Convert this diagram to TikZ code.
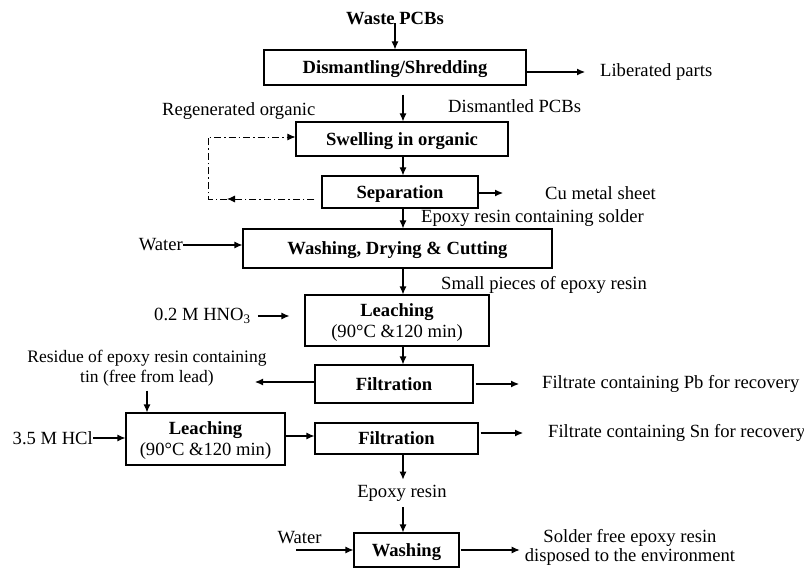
\documentclass[tikz,border=0pt]{standalone}
\usepackage{fontspec}
\setmainfont{Liberation Serif}
\usetikzlibrary{arrows.meta}
\begin{document}
\begin{tikzpicture}[x=1pt,y=-1pt,
  every node/.style={font=\fontsize{18.6}{21}\selectfont, inner sep=0pt},
  box/.style={draw, line width=1.1pt, font=\fontsize{18.6}{21}\selectfont\bfseries, align=center, text depth=0pt},
  lbl/.style={anchor=west},
  arr/.style={line width=1.1pt, -{Latex[length=8pt,width=7pt]}},
  dd/.style={line width=0.9pt, dash pattern=on 7pt off 3pt on 1.5pt off 3pt}
]
\fill[white] (0,0) rectangle (804,575);
\useasboundingbox (0,0) rectangle (804,575);

\coordinate (spine) at (403,0);

% main column
\node[font=\fontsize{18.6}{21}\selectfont\bfseries] (waste) at (395,18) {Waste PCBs};
\node[box, minimum width=262pt, minimum height=35pt] (dism) at (395,67.5) {Dismantling/Shredding};
\node[box, minimum width=212pt, minimum height=34pt] (swell) at (402,139) {Swelling in organic};
\node[box, minimum width=156pt, minimum height=32pt] (sep) at (400,192) {Separation};
\node[box, minimum width=309pt, minimum height=39pt] (wash) at (397.5,248.5) {Washing, Drying \& Cutting};
\node[box, minimum width=184pt, minimum height=51pt] (leach1) at (397,320.5) {Leaching\\\textnormal{(90°C \&120 min)}};
\node[box, minimum width=158pt, minimum height=38pt] (filt1) at (394,384) {Filtration};
\node[box, minimum width=159pt, minimum height=52pt] (leach2) at (205.5,439) {Leaching\\\textnormal{(90°C \&120 min)}};
\node[box, minimum width=163pt, minimum height=31pt] (filt2) at (396.5,438.5) {Filtration};
\node[box, minimum width=105pt, minimum height=34pt] (wash2) at (406.5,550) {Washing};

% labels
\node[lbl] (lib) at (600,72) {Liberated parts};
\node[lbl] (dpcb) at (448,106) {Dismantled PCBs};
\node[lbl] (regen) at (162,111) {Regenerated organic};
\node[lbl] (cu) at (545,193) {Cu metal sheet};
\node[lbl] (ersold) at (421,218) {Epoxy resin containing solder};
\node[anchor=east] (water1) at (183,245) {Water};
\node[lbl] (small) at (441,285) {Small pieces of epoxy resin};
\node[lbl] (hno) at (154,316) {0.2 M HNO\textsubscript{3}};
\node[align=center, font=\fontsize{17.5}{20}\selectfont] (resid) at (147,368.5) {Residue of epoxy resin containing\\tin (free from lead)};
\node[lbl] (pb) at (542,384) {Filtrate containing Pb for recovery};
\node[anchor=east] (hcl) at (93,438) {3.5 M HCl};
\node[lbl] (sn) at (548,433) {Filtrate containing Sn for recovery};
\node (epoxy) at (402,493) {Epoxy resin};
\node (water2) at (299.5,538) {Water};
\node[align=center, font=\fontsize{18.6}{19}\selectfont] (solder) at (630,547) {Solder free epoxy resin\\disposed to the environment};

% coordinates for free ends / corners
\coordinate (c1) at (208,199);
\coordinate (c2) at (208,137);
\coordinate (c1a) at (227,199);
\coordinate (w2s) at (296,550);
\coordinate (f1w) at ([yshift=2pt]filt1.west);
\coordinate (rtip) at (255,382);
\coordinate (l2e) at ([yshift=3pt]leach2.east);

% vertical connectors
\draw[arr] (waste.south -| dism.north) ++(0,-1) -- (dism.north);
\draw[arr, shorten <=9pt] (dism.south -| spine) -- (swell.north -| spine);
\draw[arr] (swell.south -| spine) -- (sep.north -| spine);
\draw[arr] (sep.south -| spine) -- (wash.north -| spine);
\draw[arr] (wash.south -| spine) -- (leach1.north -| spine);
\draw[arr] (leach1.south -| spine) -- (filt1.north -| spine);
\draw[arr, shorten <=4pt] (resid.south) -- (leach2.north -| resid.south);
\draw[arr] (filt2.south -| spine) -- ([yshift=5pt]epoxy.north -| spine);
\draw[arr] ([yshift=-6pt]epoxy.south -| spine) -- (wash2.north -| spine);

% horizontal connectors
\draw[arr, shorten >=15pt] (dism.east |- lib.west) -- (lib.west);
\draw[arr, shorten >=42pt] (sep.east |- cu.west) -- (cu.west);
\draw[arr] (water1.east) -- (wash.west |- water1.east);
\draw[arr, shorten <=7pt, shorten >=15pt] (hno.east) -- (leach1.west |- hno.east);
\draw[arr] (f1w) -- (rtip |- f1w);
\draw[arr, shorten <=2pt, shorten >=23pt] (filt1.east |- pb.west) -- (pb.west);
\draw[arr] (hcl.east) -- (leach2.west |- hcl.east);
\draw[arr] (l2e) -- (filt2.west |- l2e);
\draw[arr, shorten <=2pt, shorten >=25pt] (filt2.east |- sn.west) -- (sn.west);
\draw[arr] (w2s) -- (wash2.west |- w2s);
\draw[arr, shorten <=1pt, shorten >=5pt] (wash2.east) -- (solder.west |- wash2.east);

% recycle loop (dash-dot)
\draw[arr, dd, shorten <=7pt] (sep.west |- c1) -- (c1a);
\draw[arr, dd] (c1a) -- (c1) -- (c2) -- (swell.west |- c2);
\end{tikzpicture}
\end{document}
